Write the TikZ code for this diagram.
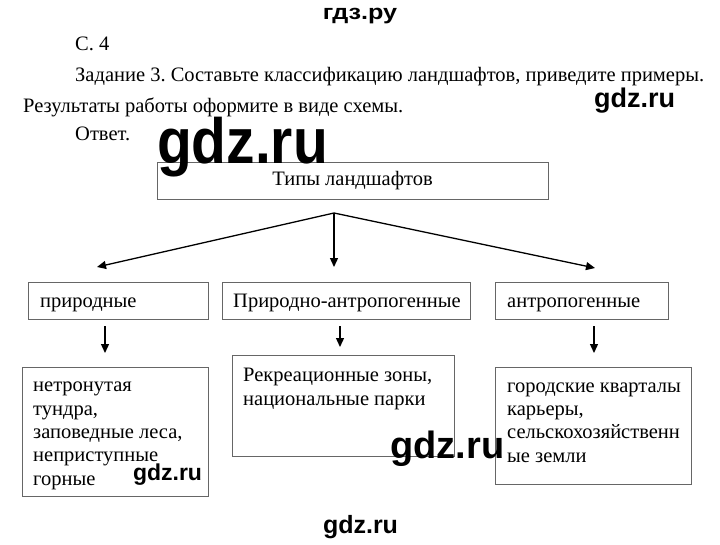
\documentclass[tikz,border=0pt]{standalone}
\usepackage{fontspec}
\setmainfont{Liberation Serif}
\newfontfamily\wmfont{Liberation Sans}
\usetikzlibrary{positioning,arrows.meta}
\frenchspacing

\begin{document}
\begin{tikzpicture}[x=1pt, y=-1pt,
        txt/.style={inner sep=0pt, anchor=base west, font=\fontsize{20.5}{23.3}\selectfont},
        box/.style={draw=black!60, line width=0.9pt, inner sep=0pt, font=\fontsize{20.5}{23.3}\selectfont},
        wm/.style={inner sep=0pt, anchor=base, font=\wmfont\bfseries},
        arr/.style={line width=1.3pt, -{Triangle[length=9pt, width=8pt]}}]
        \useasboundingbox (0,0) rectangle (720,544);
        \node[txt] (page) at (75,50) {С. 4};
        \node[txt] (task) at (75,81) {Задание 3. Составьте классификацию ландшафтов, приведите примеры.};
        \node[txt] (task2) at (23,112) {Результаты работы оформите в виде схемы.};
        \node[txt] (answer) at (75,140) {Ответ.};
        \node[box, minimum width=391pt, minimum height=37pt] (types) at (352.5,180.5) {Типы ландшафтов};
        \node[box, minimum width=180pt, minimum height=37pt] (nat) at (118,300.5) {};
        \node[box, minimum width=248pt, minimum height=37pt] (mix) at (346,300.5) {};
        \node[box, minimum width=173pt, minimum height=37pt] (anth) at (581.5,300.5) {};
        \node[txt] (natName) at (40,307) {природные};
        \node[txt] (mixName) at (233,307) {Природно-антропогенные};
        \node[txt] (anthName) at (507,307) {антропогенные};
        \node[box, minimum width=186pt, minimum height=129pt] (natEx) at (115,431.5) {};
        \node[box, minimum width=222pt, minimum height=101pt] (mixEx) at (343,405.5) {};
        \node[box, minimum width=196pt, minimum height=117pt] (anthEx) at (593,425.5) {};
        \node[txt, align=left] (natText) at (33,485) {нетронутая\\тундра,\\заповедные леса,\\неприступные\\горные};
        \node[txt, align=left] (mixText) at (243,405) {Рекреационные зоны,\\национальные парки};
        \node[txt, align=left] (anthText) at (507,462) {городские кварталы\\карьеры,\\сельскохозяйственн\\ые земли};
        \coordinate (fork) at (334,213);
        \coordinate (natTip) at (97,267);
        \coordinate (mixTip) at (334,267);
        \coordinate (anthTip) at (595,268);
        \coordinate (natOut) at (105,326);
        \coordinate (natIn) at (105,353);
        \coordinate (mixOut) at (340,326);
        \coordinate (mixIn) at (340,347);
        \coordinate (anthOut) at (594,326);
        \coordinate (anthIn) at (594,353);
        \draw[arr] (fork) -- (natTip);
        \draw[arr] (fork) -- (mixTip);
        \draw[arr] (fork) -- (anthTip);
        \draw[arr] (natOut) -- (natIn);
        \draw[arr] (mixOut) -- (mixIn);
        \draw[arr] (anthOut) -- (anthIn);
        \node[wm, font=\wmfont\bfseries\fontsize{21}{21}\selectfont, xscale=1.2, transform shape] (wmTop) at (360,19) {гдз.ру};
        \node[wm, font=\wmfont\bfseries\fontsize{27}{27}\selectfont] (wmRight) at (634.5,107) {gdz.ru};
        \node[wm, font=\wmfont\bfseries\fontsize{64}{64}\selectfont, xscale=0.89, transform shape] (wmBig) at (242.5,163) {gdz.ru};
        \node[wm, font=\wmfont\bfseries\fontsize{38}{38}\selectfont] (wmMid) at (447.5,458) {gdz.ru};
        \node[wm, font=\wmfont\bfseries\fontsize{23}{23}\selectfont] (wmBox) at (167.5,480) {gdz.ru};
        \node[wm, font=\wmfont\bfseries\fontsize{25}{25}\selectfont] (wmBottom) at (360.5,533) {gdz.ru};
    \end{tikzpicture}
\end{document}
